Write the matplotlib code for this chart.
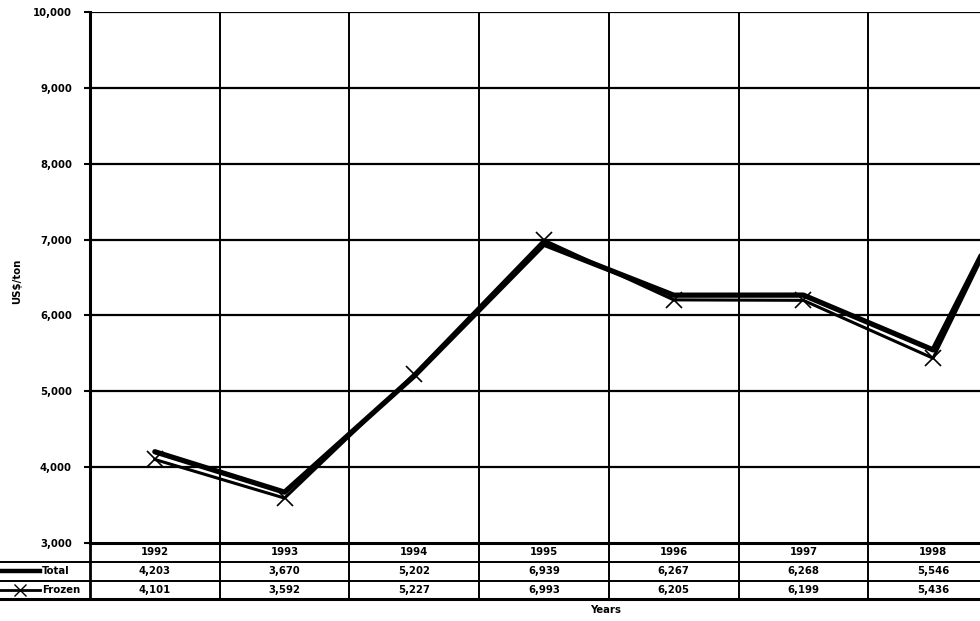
import matplotlib.pyplot as plt
import matplotlib.transforms as mtransforms
from matplotlib.lines import Line2D

years = ["1992", "1993", "1994", "1995", "1996", "1997", "1998", "1999"]
year_labels = ["1992", "1993", "1994", "1995", "1996", "1997", "1998", ""]
total = [4203, 3670, 5202, 6939, 6267, 6268, 5546, 8900]
frozen = [4101, 3592, 5227, 6993, 6205, 6199, 5436, 8950]
total_labels = ["4,203", "3,670", "5,202", "6,939", "6,267", "6,268", "5,546", ""]
frozen_labels = ["4,101", "3,592", "5,227", "6,993", "6,205", "6,199", "5,436", ""]
yticks = [3000, 4000, 5000, 6000, 7000, 8000, 9000, 10000]

W, H = 980, 621
fig = plt.figure(figsize=(W / 100, H / 100), dpi=100)
fs = dict(fontsize=7.3, fontweight="bold", family="DejaVu Sans")

# plot area runs past the right edge, like the cropped original
left, bottom, top = 90, 543, 12
cat_w = 129.7
ax_w = len(years) * cat_w
ax = fig.add_axes([left / W, 1 - bottom / H, ax_w / W, (bottom - top) / H])
x = list(range(len(years)))

ax.set_xlim(-0.5, len(years) - 0.5)
ax.set_ylim(3000, 10000)
ax.set_yticks(yticks)
ax.set_yticklabels([f"{v:,}" for v in yticks], **fs)
ax.set_xticks([])
for s in ["top", "right", "bottom"]:
    ax.spines[s].set_visible(False)
ax.spines["left"].set_linewidth(2.2)
ax.tick_params(axis="y", length=4, width=1.5, pad=9)

for v in yticks[1:]:
    ax.axhline(v, color="black", lw=1.6, zorder=1)
ax.axhline(3000, color="black", lw=2.0, zorder=1, clip_on=False)
for i in range(1, len(years)):
    ax.axvline(i - 0.5, color="black", lw=1.4, zorder=1)

ax.plot(x, total, color="black", lw=3.8, solid_capstyle="round", zorder=3)
ax.plot(x, frozen, color="black", lw=2.2, marker="x", ms=12, mew=1.2, zorder=3)

ax.set_ylabel("US$/ton", **fs)
ax.yaxis.set_label_coords((22 - left) / ax_w, 0.493)

# data table under the axes
tr = mtransforms.blended_transform_factory(ax.transData, fig.transFigure)
ftr = fig.transFigure
rows_y = [543, 562, 581, 599]
for k, yy in enumerate(rows_y):
    yf = 1 - yy / H
    x0 = left / W if k == 0 else 0
    fig.add_artist(Line2D([x0, 1], [yf, yf], color="black",
                          lw=2.2 if k in (0, 3) else 1.4, transform=ftr))
for i in range(len(years) + 1):
    xx = i - 0.5
    fig.add_artist(Line2D([xx, xx], [1 - 543 / H, 1 - 599 / H], color="black",
                          lw=2.0 if i == 0 else 1.4, transform=tr))

centers = [552, 571, 590]
for i in range(len(years)):
    for row, labels in zip(centers, [year_labels, total_labels, frozen_labels]):
        if labels[i]:
            fig.text(i, 1 - row / H, labels[i], ha="center", va="center", transform=tr, **fs)

fig.add_artist(Line2D([0, 40 / W], [1 - centers[1] / H] * 2, color="black", lw=3.2, transform=ftr))
fig.add_artist(Line2D([0, 40 / W], [1 - centers[2] / H] * 2, color="black", lw=2.0, transform=ftr))
fig.add_artist(Line2D([20 / W], [1 - centers[2] / H], color="black", lw=0,
                      marker="x", ms=8, mew=1.0, transform=ftr))
fig.text(42 / W, 1 - centers[1] / H, "Total", ha="left", va="center", **fs)
fig.text(42 / W, 1 - centers[2] / H, "Frozen", ha="left", va="center", **fs)

fig.text(606 / W, 1 - 610 / H, "Years", ha="center", va="center", **fs)

fig.savefig("out.png", dpi=100)
